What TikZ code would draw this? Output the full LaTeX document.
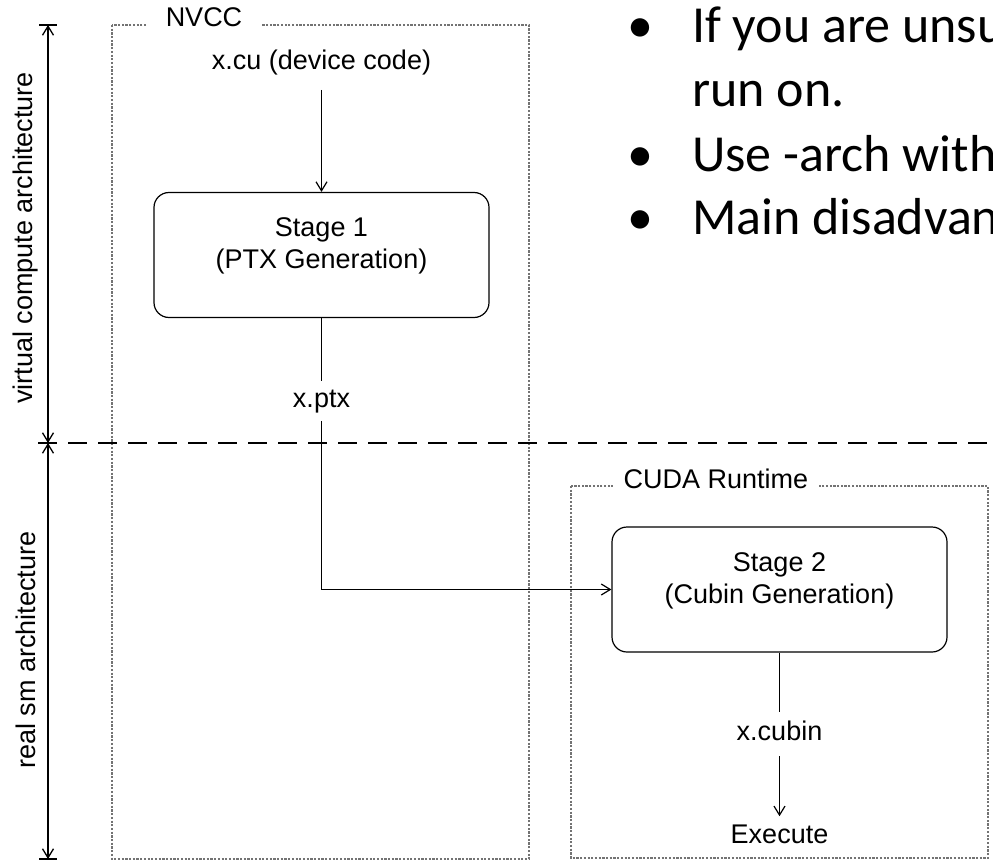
\documentclass[tikz,border=0pt]{standalone}
\usepackage{fontspec}
\setmainfont{Liberation Sans}
\newfontfamily\slidefont{Carlito}
\usetikzlibrary{arrows.meta}

\tikzset{
  lbl/.style={font=\fontsize{27pt}{32pt}\selectfont, inner sep=8pt},
  grpbox/.style={draw=black!55, line width=1.7pt, dash pattern=on 2.2pt off 1.5pt},
  grplbl/.style={font=\fontsize{27pt}{32pt}\selectfont, fill=white, inner ysep=2pt, anchor=base},
  stagebox/.style={draw, rounded corners=15pt, line width=1.2pt, minimum width=335pt, minimum height=125pt},
  conn/.style={line width=1.2pt},
  arrowto/.style={-{Straight Barb[length=9pt,width=11pt]}},
  dimline/.style={{Straight Barb[length=9pt,width=11pt]}-{Straight Barb[length=9pt,width=11pt]}, line width=1.3pt},
  divider/.style={line width=1.3pt, dash pattern=on 19pt off 11pt},
  slideline/.style={font=\slidefont\fontsize{52pt}{64pt}\selectfont, anchor=base west, inner sep=0pt},
  dotmark/.style={font=\slidefont\fontsize{52pt}{64pt}\selectfont, anchor=base, inner sep=0pt},
}

\begin{document}
\begin{tikzpicture}[x=1pt,y=-1pt]
    \useasboundingbox (0,0) rectangle (993,861);
    \clip (0,0) rectangle (993,861);
    % groups
    \draw[grpbox] (112,25) rectangle (529,859);
    \node[grplbl, inner xsep=19pt] (nvcc) at (204,27) {NVCC};
    \draw[grpbox] (571,486) rectangle (988,858);
    \node[grplbl, inner xsep=11pt] (cudart) at (716,488) {CUDA Runtime};
    % nodes
    \node[lbl, anchor=base] (xcu) at (321.5,70) {x.cu (device code)};
    \node[stagebox, label={[lbl, align=center, inner sep=0pt, yshift=9pt]center:{Stage 1\\(PTX Generation)}}] (stageone) at (321.5,255) {};
    \node[lbl, anchor=base] (xptx) at (321.5,407) {x.ptx};
    \node[stagebox, label={[lbl, align=center, inner sep=0pt, yshift=9pt]center:{Stage 2\\(Cubin Generation)}}] (stagetwo) at (779.5,589.5) {};
    \node[lbl, anchor=base] (xcubin) at (779.5,740) {x.cubin};
    \node[lbl, anchor=base] (exec) at (779.5,843) {Execute};
    % side labels
    \node[lbl, rotate=90] (virtlbl) at (26,238) {virtual compute architecture};
    \node[lbl, rotate=90] (reallbl) at (26,650) {real sm architecture};
    \coordinate (vtop) at (48,25);
    \coordinate (vmid) at (48,443);
    \coordinate (vbot) at (48,859);
    \coordinate (divl) at (38,443);
    \coordinate (divr) at (993,443);
    % slide text
    \node[dotmark] (dotone) at (640,43) {•};
    \node[slideline] (lineone) at (692,43) {If you are unsu};
    \node[slideline] (linetwo) at (692,107) {run on.};
    \node[dotmark] (dotthree) at (640,172) {•};
    \node[slideline] (linethree) at (692,172) {Use -arch with};
    \node[dotmark] (dotfour) at (640,235) {•};
    \node[slideline] (linefour) at (692,235) {Main disadvan};
    % paths
    \draw[divider] (divl) -- (divr);
    \draw[dimline] (vtop) -- (vmid);
    \draw[dimline] (vmid) -- (vbot);
    \draw[conn] ([xshift=-9pt]vtop) -- ([xshift=9pt]vtop);
    \draw[conn] ([xshift=-9pt]vbot) -- ([xshift=9pt]vbot);
    \draw[conn, arrowto, shorten <=6pt] (xcu) -- (stageone);
    \draw[conn] (stageone) -- (xptx);
    \draw[conn, arrowto] (xptx) |- (stagetwo);
    \draw[conn] (stagetwo) -- (xcubin);
    \draw[conn, arrowto, shorten <=8pt] (xcubin) -- (exec);
\end{tikzpicture}
\end{document}
